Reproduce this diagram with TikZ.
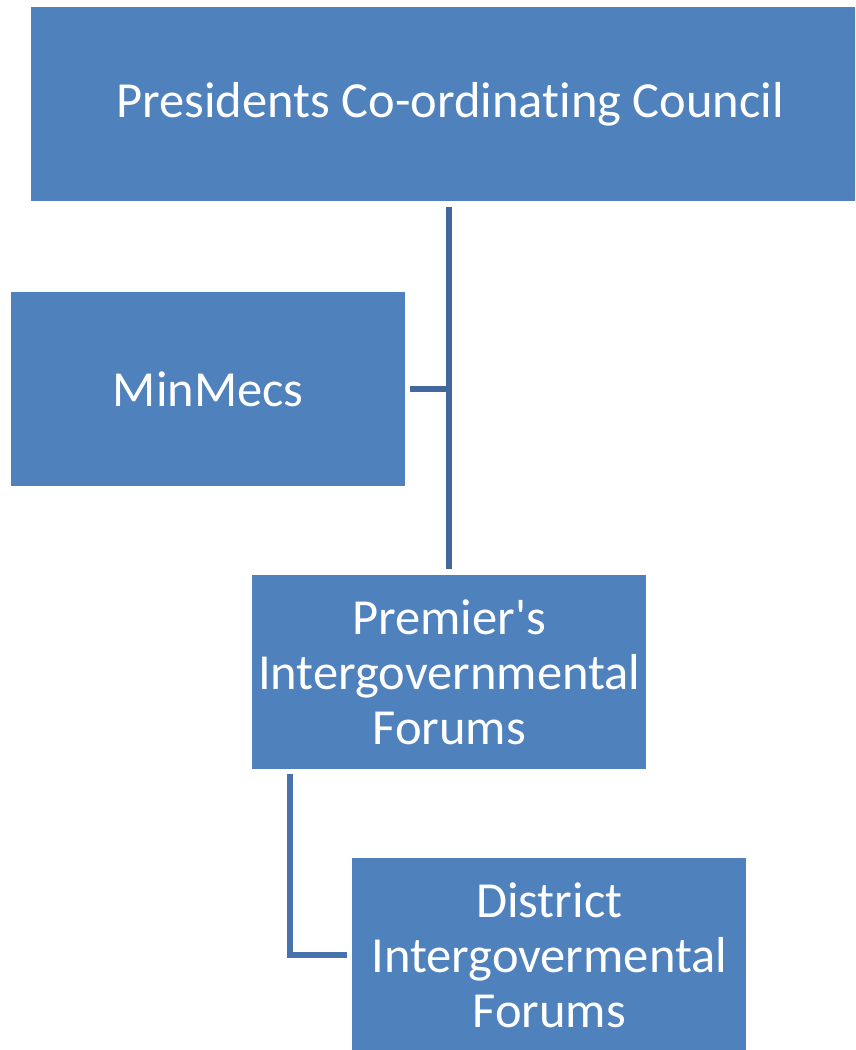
\documentclass[tikz,border=0pt]{standalone}
\usepackage{fontspec}
\setmainfont{Carlito}[Ligatures={TeXOff,CommonOff}]
\definecolor{boxblue}{HTML}{4F81BD}
\definecolor{linkblue}{HTML}{41679D}
\definecolor{linkbluelight}{HTML}{4872AC}
\begin{document}
\begin{tikzpicture}[x=1pt,y=-1pt,
  orgbox/.style={rectangle, fill=boxblue, text=white, inner sep=0pt,
    minimum height=194pt, align=center,
    font=\fontsize{50.5}{55}\selectfont},
  link/.style={draw=linkblue, line width=6pt}]
  \useasboundingbox (0,0) rectangle (855,1050);
  \begin{scope}
  \clip (0,0) rectangle (855,1050);
  \node[orgbox, minimum width=838pt, anchor=north west] (pcc) at (31,7)
    {Presidents Co-ordinating Council};
  \node[orgbox, minimum width=394pt, anchor=north west] (mm) at (11,292)
    {MinMecs};
  \node[orgbox, minimum width=394pt, anchor=north west] (pif) at (252,575)
    {Premier's\\Intergovernmental\\Forums};
  \node[orgbox, minimum width=394pt, anchor=north west] (dif) at (352,858)
    {District\\Intergovermental\\Forums};

  % trunk from the council down to the premier's forums
  \coordinate (trunk) at (449,0);
  \draw[link] ([yshift=-6pt]pcc.south -| trunk) -- ([yshift=6pt]pif.north -| trunk);
  % MinMecs branch
  \draw[link] ([xshift=5pt]mm.east) -- (mm.east -| trunk);
  % elbow from the premier's forums to the district forums
  \coordinate (elbow) at (289.5,0);
  \draw[link, draw=linkbluelight] ([yshift=-5pt]pif.south -| elbow) |- ([xshift=-5pt]dif.west);
  \end{scope}
\end{tikzpicture}
\end{document}
